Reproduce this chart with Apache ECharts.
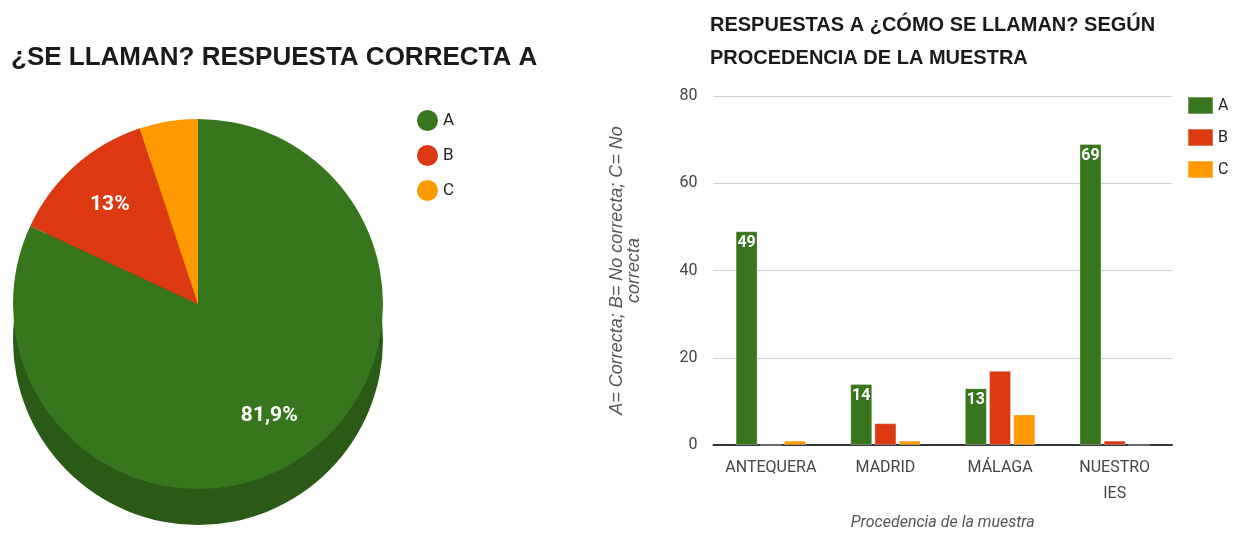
<!DOCTYPE html>
<html>
<head>
<meta charset="utf-8">
<script src="https://cdn.jsdelivr.net/npm/echarts@6/dist/echarts.min.js"></script>
<style>
  body { margin: 0; background: #fff; }
  #pie_chart { position: absolute; left: 0; top: 0; width: 600px; height: 536px; }
  #bar_chart { position: absolute; left: 600px; top: 0; width: 636px; height: 536px; }
</style>
</head>
<body>
<div id="pie_chart"></div>
<div id="bar_chart"></div>
<script>
  // respuestas (A correcta)
  var answers = ['A', 'B', 'C'];
  var answerColors = ['#38761d', '#dc3912', '#ff9900'];
  var sideColors = ['#2a5a16', '#a82b0e', '#c27400'];
  var pieTotals = [145, 23, 9];

  var places = ['ANTEQUERA', 'MADRID', 'MÁLAGA', 'NUESTRO\nIES'];
  var valuesA = [49, 14, 13, 69];
  var valuesB = [0, 5, 17, 1];
  var valuesC = [1, 1, 7, 0];

  var yTicks = { min: 0, max: 80, interval: 20 };

  var fontFamily = 'Roboto, "Liberation Sans", Arial, sans-serif';
  var titleFont = '"Liberation Sans", Arial, sans-serif';

  function pctLabel (p) {
    return (Math.round(p.percent * 10) / 10).toString().replace('.', ',') + '%';
  }

  function pieData (colors, withLabel) {
    return answers.map(function (name, i) {
      var item = { name: name, value: pieTotals[i], itemStyle: { color: colors[i] } };
      if (withLabel && i === 2) item.label = { show: false };
      return item;
    });
  }

  var pieChart = echarts.init(document.getElementById('pie_chart'));
  pieChart.setOption({
    animation: false,
    textStyle: { fontFamily: fontFamily },
    title: {
      text: '¿SE LLAMAN? RESPUESTA CORRECTA A',
      left: 6,
      top: 40,
      textStyle: { fontSize: 26, fontWeight: 'bold', color: '#1a1a1a', fontFamily: titleFont }
    },
    legend: {
      orient: 'vertical',
      left: 412,
      top: 105,
      icon: 'circle',
      itemWidth: 21,
      itemHeight: 21,
      itemGap: 14,
      data: answers.map(function (name, i) {
        return { name: name, itemStyle: { color: answerColors[i] } };
      }),
      textStyle: { fontSize: 17, color: '#222' }
    },
    series: [
      {
        // lado del pastel (efecto 3D)
        type: 'pie',
        name: 'side',
        center: [198, 340],
        radius: 185,
        startAngle: 90,
        silent: true,
        label: { show: false },
        labelLine: { show: false },
        data: pieData(sideColors, false)
      },
      {
        type: 'pie',
        name: 'top',
        center: [198, 304],
        radius: 185,
        startAngle: 90,
        label: { show: false },
        labelLine: { show: false },
        data: pieData(answerColors, false)
      },
      {
        // solo etiquetas
        type: 'pie',
        name: 'labels',
        center: [198, 304],
        radius: [74, 185],
        startAngle: 90,
        silent: true,
        itemStyle: { color: 'rgba(0,0,0,0)' },
        label: {
          show: true,
          position: 'inner',
          formatter: pctLabel,
          color: '#fff',
          fontSize: 21,
          fontWeight: 'bold'
        },
        labelLine: { show: false },
        data: pieData(['rgba(0,0,0,0)', 'rgba(0,0,0,0)', 'rgba(0,0,0,0)'], true)
      }
    ]
  });

  var barChart = echarts.init(document.getElementById('bar_chart'));
  var barSeries = [valuesA, valuesB, valuesC].map(function (vals, i) {
    return {
      name: answers[i],
      type: 'bar',
      barWidth: 22,
      barGap: '10%',
      data: vals,
      itemStyle: { color: answerColors[i], borderColor: 'rgba(255,255,255,0.3)', borderWidth: 1 },
      label: {
        show: i === 0,
        position: 'insideTop',
        distance: 4,
        color: '#fff',
        fontSize: 16,
        fontWeight: 'bold'
      }
    };
  });

  barChart.setOption({
    animation: false,
    textStyle: { fontFamily: fontFamily },
    title: {
      text: 'RESPUESTAS A ¿CÓMO SE LLAMAN? SEGÚN\nPROCEDENCIA DE LA MUESTRA',
      left: 105,
      top: 4,
      textStyle: { fontSize: 20, fontWeight: 'bold', color: '#1a1a1a', lineHeight: 33, fontFamily: titleFont }
    },
    legend: {
      orient: 'vertical',
      left: 582,
      top: 91,
      icon: 'rect',
      itemWidth: 25,
      itemHeight: 17,
      itemGap: 13,
      data: answers,
      textStyle: { fontSize: 16, color: '#222' }
    },
    grid: { left: 110, right: 64, top: 96, bottom: 88, containLabel: false },
    xAxis: {
      type: 'category',
      data: places,
      name: 'Procedencia de la muestra',
      nameLocation: 'middle',
      nameGap: 70,
      nameTextStyle: { fontStyle: 'italic', fontSize: 16, color: '#555' },
      axisTick: { show: false },
      axisLine: { lineStyle: { color: '#333', width: 2 } },
      axisLabel: { interval: 0, fontSize: 16, color: '#444', lineHeight: 26, margin: 10 }
    },
    yAxis: {
      type: 'value',
      min: yTicks.min,
      max: yTicks.max,
      interval: yTicks.interval,
      name: 'A= Correcta; B= No correcta; C= No\ncorrecta',
      nameLocation: 'middle',
      nameRotate: 90,
      nameGap: 71,
      nameTextStyle: { fontStyle: 'italic', fontSize: 18, color: '#555', lineHeight: 17, fontFamily: titleFont },
      axisLabel: { fontSize: 16, color: '#444', margin: 16 },
      splitLine: { lineStyle: { color: '#d0d0d0' } }
    },
    series: barSeries
  });
</script>
</body>
</html>
